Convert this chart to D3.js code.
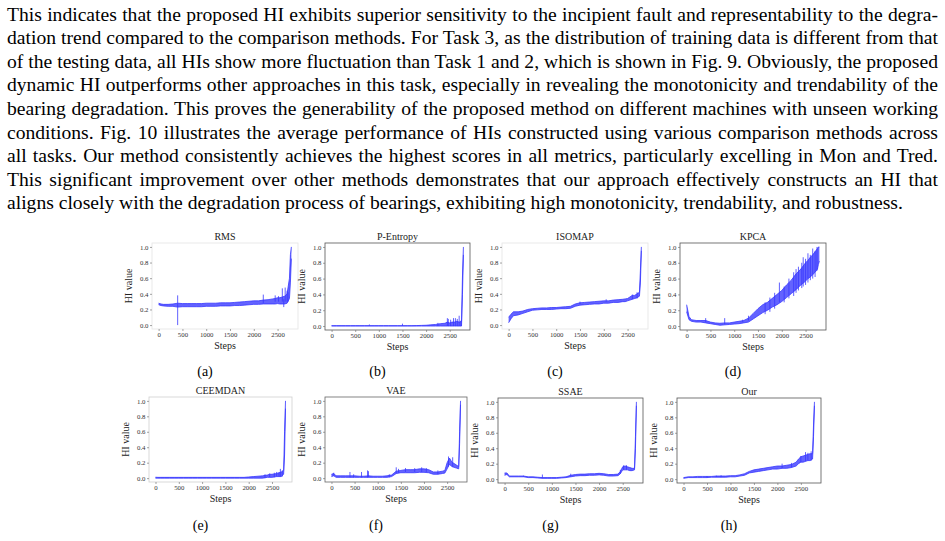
<!DOCTYPE html>
<html><head><meta charset="utf-8">
<script src="https://cdn.jsdelivr.net/npm/d3@7"></script>
<style>body{margin:0;background:#fff}svg{display:block}</style>
</head><body>
<svg id="c" width="945" height="541"></svg>
<script>
// ---------- DATA ----------
const paragraphLines = [
  "This indicates that the proposed HI exhibits superior sensitivity to the incipient fault and representability to the degra-",
  "dation trend compared to the comparison methods. For Task 3, as the distribution of training data is different from that",
  "of the testing data, all HIs show more fluctuation than Task 1 and 2, which is shown in Fig. 9. Obviously, the proposed",
  "dynamic HI outperforms other approaches in this task, especially in revealing the monotonicity and trendability of the",
  "bearing degradation. This proves the generability of the proposed method on different machines with unseen working",
  "conditions. Fig. 10 illustrates the average performance of HIs constructed using various comparison methods across",
  "all tasks. Our method consistently achieves the highest scores in all metrics, particularly excelling in Mon and Tred.",
  "This significant improvement over other methods demonstrates that our approach effectively constructs an HI that",
  "aligns closely with the degradation process of bearings, exhibiting high monotonicity, trendability, and robustness."
];
const panelTitles = ["RMS","P-Entropy","ISOMAP","KPCA","CEEMDAN","VAE","SSAE","Our"];
const captions = ["(a)","(b)","(c)","(d)","(e)","(f)","(g)","(h)"];
const xTickValues = [0,500,1000,1500,2000,2500];
const yTickValues = [0,0.2,0.4,0.6,0.8,1.0];
const steps = [0,50,100,200,300,400,500,600,700,800,900,1000,1100,1200,1300,1400,1500,1600,1700,1800,1900,2000,2100,2200,2300,2400,2450,2500,2550,2600,2650,2700,2750,2770,2790];

// band lower / upper envelopes of each HI, and spikes [step, from, to]
const rmsLow  = [0.26,0.25,0.245,0.24,0.24,0.23,0.235,0.235,0.235,0.235,0.235,0.24,0.24,0.24,0.245,0.245,0.245,0.25,0.25,0.255,0.26,0.265,0.265,0.27,0.27,0.27,0.27,0.275,0.27,0.27,0.27,0.28,0.34,0.55,0.85];
const rmsHigh = [0.28,0.27,0.265,0.265,0.27,0.28,0.275,0.275,0.275,0.275,0.275,0.28,0.28,0.28,0.285,0.285,0.285,0.29,0.295,0.3,0.305,0.31,0.31,0.32,0.325,0.335,0.34,0.35,0.35,0.36,0.37,0.4,0.6,0.9,1.0];
const rmsSpikes = [[400,0.0,0.38],[2200,0.28,0.39],[2450,0.3,0.38],[2520,0.3,0.37],[2600,0.3,0.47],[2630,0.23,0.33],[2660,0.3,0.48],[2700,0.3,0.44],[2720,0.3,0.42]];

const pentLow  = [0,0,0,0,0,0,0,0,0,0,0,0,0,0,0,0,0,0,0,0,0,0,0,0,0,0,0,0,0,0,0,0,0,0.4,0.9];
const pentHigh = [0.005,0.005,0.005,0.005,0.005,0.005,0.005,0.005,0.005,0.005,0.005,0.005,0.005,0.005,0.005,0.005,0.005,0.005,0.005,0.006,0.008,0.01,0.015,0.02,0.03,0.035,0.05,0.04,0.05,0.05,0.06,0.05,0.06,0.62,1.0];
const pentSpikes = [[800,0,0.02],[1500,0,0.03],[2250,0,0.04],[2450,0,0.1],[2470,0,0.09],[2520,0,0.08],[2580,0,0.1],[2620,0,0.1],[2660,0,0.09],[2700,0,0.13],[2740,0,0.07]];

const isoLow  = [0.03,0.08,0.12,0.13,0.15,0.17,0.19,0.195,0.2,0.2,0.2,0.205,0.21,0.21,0.215,0.24,0.255,0.26,0.265,0.27,0.27,0.28,0.28,0.29,0.29,0.3,0.3,0.31,0.32,0.33,0.34,0.35,0.37,0.55,0.95];
const isoHigh = [0.1,0.14,0.17,0.17,0.18,0.2,0.21,0.215,0.22,0.22,0.225,0.225,0.23,0.235,0.24,0.27,0.285,0.29,0.295,0.3,0.305,0.31,0.31,0.32,0.325,0.33,0.335,0.34,0.36,0.38,0.38,0.4,0.42,0.7,1.0];
const isoSpikes = [[1500,0.27,0.3],[2050,0.3,0.33],[2600,0.33,0.39],[2700,0.34,0.42]];

const kpcaLow  = [0.18,0.08,0.06,0.05,0.05,0.04,0.03,0.02,0.01,0.015,0.02,0.025,0.03,0.04,0.05,0.09,0.13,0.17,0.2,0.24,0.27,0.31,0.36,0.41,0.46,0.52,0.54,0.57,0.6,0.62,0.65,0.68,0.72,0.78,0.82];
const kpcaHigh = [0.27,0.12,0.08,0.07,0.07,0.07,0.05,0.04,0.035,0.04,0.04,0.05,0.06,0.07,0.1,0.16,0.22,0.27,0.3,0.35,0.4,0.45,0.52,0.58,0.66,0.72,0.76,0.8,0.83,0.87,0.9,0.94,0.98,1.0,1.0];
const kpcaSpikes = [[400,0.05,0.1],[800,0.02,0.1],[1180,0.05,0.08],[1300,0.07,0.13],[1650,0.15,0.3],[1750,0.18,0.36],[1850,0.22,0.42],[1950,0.3,0.55],[2050,0.3,0.5],[2150,0.35,0.6],[2250,0.38,0.68],[2300,0.42,0.72],[2350,0.45,0.75],[2420,0.48,0.8],[2450,0.5,0.87],[2500,0.52,0.85],[2550,0.55,0.92],[2600,0.58,0.9],[2650,0.6,0.98],[2700,0.62,0.95],[2740,0.7,1.0]];

const ceeLow  = [0,0,0,0,0,0,0,0,0,0,0,0,0,0,0,0,0,0,0,0,0,0,0,0,0,0.01,0.01,0.01,0.015,0.02,0.02,0.02,0.05,0.3,0.9];
const ceeHigh = [0.012,0.01,0.01,0.01,0.01,0.01,0.01,0.01,0.01,0.01,0.01,0.01,0.01,0.01,0.01,0.01,0.01,0.01,0.01,0.01,0.01,0.015,0.02,0.025,0.03,0.04,0.05,0.05,0.055,0.06,0.07,0.08,0.1,0.6,1.0];
const ceeSpikes = [[2350,0,0.05],[2450,0.01,0.06],[2550,0.01,0.07],[2600,0.02,0.08],[2650,0.02,0.07],[2680,0.02,0.12],[2720,0.02,0.1]];

const vaeLow  = [0.02,0.03,0.01,0.01,0.01,0.01,0.01,0.01,0.01,0.01,0.01,0.01,0.01,0.01,0.02,0.06,0.07,0.07,0.07,0.07,0.075,0.075,0.07,0.05,0.05,0.06,0.065,0.12,0.18,0.15,0.14,0.13,0.12,0.45,0.95];
const vaeHigh = [0.05,0.06,0.03,0.03,0.03,0.03,0.03,0.025,0.025,0.03,0.025,0.025,0.025,0.03,0.04,0.09,0.1,0.11,0.11,0.11,0.12,0.12,0.11,0.08,0.08,0.09,0.1,0.2,0.26,0.21,0.19,0.17,0.15,0.6,1.0];
const vaeSpikes = [[50,0.03,0.07],[400,0.01,0.08],[480,0.01,0.05],[650,0.01,0.08],[780,0.01,0.1],[800,0.01,0.09],[1250,0.01,0.05],[1400,0.06,0.14],[1450,0.07,0.12],[1600,0.08,0.13],[1800,0.08,0.13],[1950,0.08,0.14],[2050,0.08,0.13],[2300,0.05,0.1],[2530,0.15,0.28],[2620,0.15,0.27]];

const ssaeLow  = [0.05,0.06,0.03,0.03,0.03,0.03,0.02,0.02,0.015,0.01,0.01,0.01,0.01,0.015,0.02,0.03,0.04,0.045,0.045,0.05,0.05,0.055,0.05,0.04,0.04,0.045,0.07,0.12,0.12,0.12,0.11,0.11,0.12,0.4,0.95];
const ssaeHigh = [0.08,0.08,0.04,0.04,0.04,0.04,0.03,0.03,0.025,0.02,0.02,0.02,0.02,0.025,0.03,0.05,0.06,0.065,0.065,0.07,0.07,0.075,0.07,0.06,0.06,0.065,0.1,0.16,0.17,0.16,0.15,0.14,0.14,0.55,1.0];
const ssaeSpikes = [[400,0.03,0.045],[800,0.01,0.06],[1400,0.03,0.07],[2450,0.07,0.12],[2520,0.12,0.18],[2580,0.12,0.18]];

const ourLow  = [0.01,0.015,0.02,0.02,0.02,0.02,0.02,0.025,0.025,0.025,0.025,0.03,0.03,0.04,0.05,0.08,0.09,0.1,0.11,0.12,0.13,0.13,0.14,0.14,0.15,0.17,0.2,0.22,0.22,0.23,0.24,0.24,0.26,0.55,0.95];
const ourHigh = [0.02,0.025,0.03,0.03,0.035,0.035,0.035,0.035,0.04,0.04,0.04,0.045,0.045,0.055,0.07,0.1,0.12,0.13,0.14,0.15,0.16,0.17,0.17,0.18,0.19,0.22,0.26,0.29,0.3,0.31,0.32,0.33,0.33,0.7,1.0];
const ourSpikes = [[500,0.02,0.04],[700,0.025,0.045],[800,0.025,0.05],[2100,0.14,0.2],[2300,0.15,0.21],[2500,0.22,0.3],[2600,0.23,0.35],[2650,0.24,0.34],[2720,0.24,0.36]];

const allLow = [rmsLow,pentLow,isoLow,kpcaLow,ceeLow,vaeLow,ssaeLow,ourLow];
const allHigh = [rmsHigh,pentHigh,isoHigh,kpcaHigh,ceeHigh,vaeHigh,ssaeHigh,ourHigh];
const allSpikes = [rmsSpikes,pentSpikes,isoSpikes,kpcaSpikes,ceeSpikes,vaeSpikes,ssaeSpikes,ourSpikes];

// ---------- LAYOUT ----------
const serif = "'Liberation Serif','Times New Roman',Times,serif";
const panelLeft   = [152,325,502,680,149,325,498,677];
const panelTop    = [243,243,243,243,397,397,398,398];
const panelWidth  = [146,145,146,146,143,142,145,144];
const panelHeight = [86,87,86,87,85,85,85,85];
const frameColor  = ["#e4e4e4","#555","#e4e4e4","#555","#cfcfcf","#666","#555","#555"];
const captionY    = [376,376,376,376,530,530,530,530];
const lineColor = "#3737ff";

const svg = d3.select("#c");

// paragraph
const textLeft = 7, textRight = 938, baseline0 = 20.5, lineGap = 23.6, fontSize = 19.6;
paragraphLines.forEach((ln,i)=>{
  const t = svg.append("text")
    .attr("x",textLeft).attr("y",baseline0+i*lineGap)
    .style("font-family",serif).style("font-size",fontSize+"px").attr("fill","#000")
    .text(ln);
  if (i < paragraphLines.length-1) {
    const w = t.node().getComputedTextLength();
    const spaces = (ln.match(/ /g)||[]).length;
    t.style("word-spacing", ((textRight-textLeft-w)/spaces)+"px");
  }
});

const xMax = 2790;
panelTitles.forEach((title,i)=>{
  const L = panelLeft[i], T = panelTop[i], W = panelWidth[i], H = panelHeight[i];
  const x = d3.scaleLinear().domain([-0.05*xMax, 1.05*xMax]).range([L, L+W]);
  const y = d3.scaleLinear().domain([-0.05, 1.05]).range([T+H, T]);
  const g = svg.append("g");

  // frame
  g.append("rect").attr("x",L).attr("y",T).attr("width",W).attr("height",H)
    .attr("fill","none").attr("stroke",frameColor[i]).attr("stroke-width",0.8);

  const data = steps.map((s,k)=>({s, lo: allLow[i][k], hi: allHigh[i][k]}));
  const area = d3.area().x(d=>x(d.s)).y0(d=>y(d.lo)).y1(d=>y(d.hi));
  g.append("path").attr("d",area(data)).attr("fill",lineColor).attr("fill-opacity",0.78);
  const lineLo = d3.line().x(d=>x(d.s)).y(d=>y(d.lo));
  const lineHi = d3.line().x(d=>x(d.s)).y(d=>y(d.hi));
  g.append("path").attr("d",lineLo(data)).attr("fill","none").attr("stroke",lineColor).attr("stroke-width",0.8);
  g.append("path").attr("d",lineHi(data)).attr("fill","none").attr("stroke",lineColor).attr("stroke-width",0.8);
  g.selectAll(".spk").data(allSpikes[i]).join("line")
    .attr("x1",d=>x(d[0])).attr("x2",d=>x(d[0]))
    .attr("y1",d=>y(d[1])).attr("y2",d=>y(d[2]))
    .attr("stroke",lineColor).attr("stroke-width",0.8);

  const xa = g.append("g").attr("transform",`translate(0,${T+H})`)
    .call(d3.axisBottom(x).tickValues(xTickValues).tickFormat(d3.format("d")).tickSize(2).tickPadding(1));
  const ya = g.append("g").attr("transform",`translate(${L},0)`)
    .call(d3.axisLeft(y).tickValues(yTickValues).tickFormat(d3.format(".1f")).tickSize(2).tickPadding(1.5));
  [xa,ya].forEach(a=>{
    a.select(".domain").remove();
    a.selectAll("line").attr("stroke","#666").attr("stroke-width",0.6);
    a.selectAll("text").style("font-family",serif).style("font-size","6.8px").attr("fill","#333");
  });

  g.append("text").attr("x",L+W/2).attr("y",T-3.5).attr("text-anchor","middle")
    .style("font-family",serif).style("font-size","10px").attr("fill","#222").text(title);
  g.append("text").attr("x",L+W/2).attr("y",T+H+19.5).attr("text-anchor","middle")
    .style("font-family",serif).style("font-size","10px").attr("fill","#222").text("Steps");
  g.append("text").attr("transform",`translate(${L-20},${T+H/2}) rotate(-90)`).attr("text-anchor","middle")
    .style("font-family",serif).style("font-size","10px").attr("fill","#222").text("HI value");
  g.append("text").attr("x",L+W/2-20).attr("y",captionY[i]).attr("text-anchor","middle")
    .style("font-family",serif).style("font-size","14px").attr("fill","#000").text(captions[i]);
});
</script>
</body></html>
